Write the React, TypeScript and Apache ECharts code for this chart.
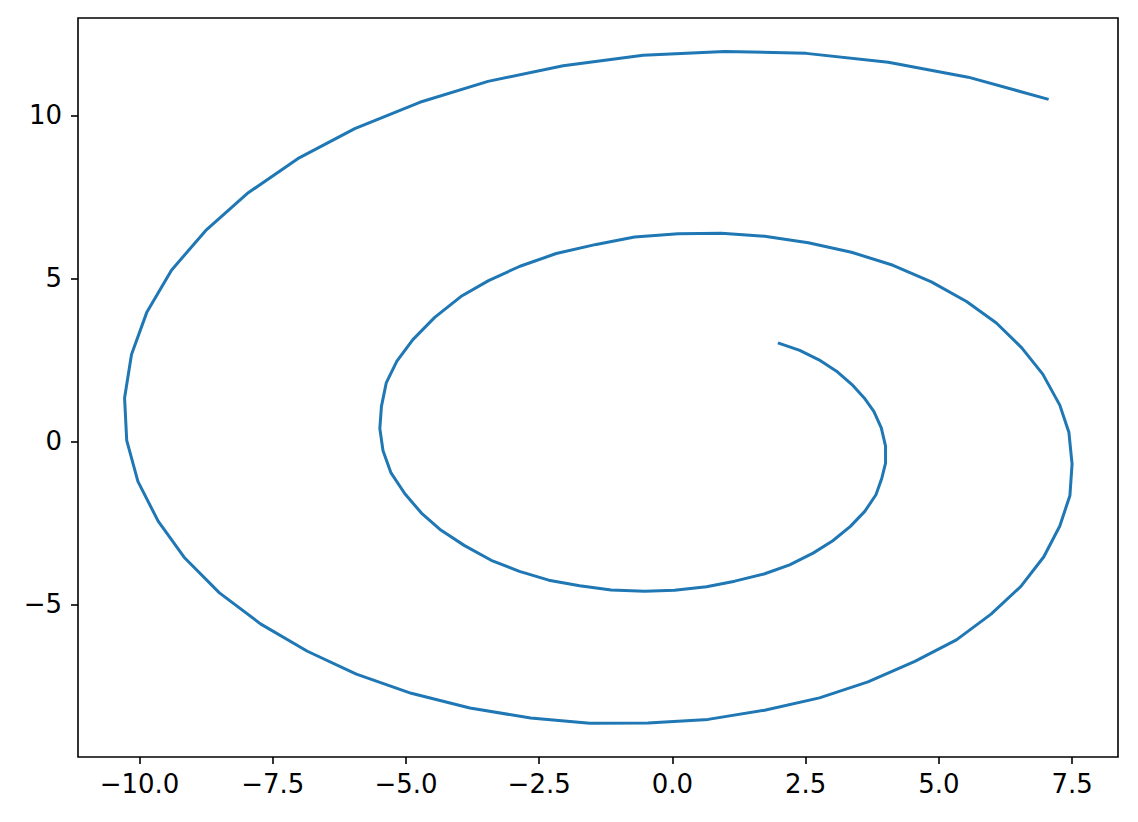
import React, { useEffect, useRef } from "react";
import * as echarts from "echarts";

const xValues: number[] = [
  1.98, 2.39, 2.75, 3.08, 3.37, 3.6, 3.78, 3.92, 4.0, 4.0,
  3.93, 3.82, 3.61, 3.34, 3.01, 2.64, 2.2, 1.72, 1.17, 0.64,
  0.04, -0.52, -1.15, -1.74, -2.32, -2.87, -3.4, -3.9, -4.34, -4.71,
  -5.02, -5.28, -5.43, -5.49, -5.46, -5.37, -5.17, -4.87, -4.46, -3.97,
  -3.45, -2.86, -2.18, -1.43, -0.71, 0.11, 0.92, 1.73, 2.55, 3.36,
  4.14, 4.86, 5.52, 6.08, 6.56, 6.95, 7.27, 7.44, 7.5, 7.46,
  7.27, 6.97, 6.54, 5.98, 5.33, 4.55, 3.67, 2.76, 1.73, 0.67,
  -0.46, -1.55, -2.66, -3.8, -4.9, -5.93, -6.85, -7.73, -8.5, -9.15,
  -9.65, -10.03, -10.24, -10.28, -10.15, -9.86, -9.4, -8.76, -7.98, -7.03,
  -5.96, -4.74, -3.46, -2.05, -0.55, 0.98, 2.51, 4.05, 5.55, 7.06,
];

const yValues: number[] = [
  3.02, 2.79, 2.5, 2.15, 1.74, 1.33, 0.92, 0.41, -0.15, -0.67,
  -1.13, -1.64, -2.15, -2.61, -3.05, -3.43, -3.79, -4.07, -4.29, -4.46,
  -4.57, -4.6, -4.56, -4.43, -4.26, -3.99, -3.65, -3.2, -2.73, -2.2,
  -1.61, -0.97, -0.29, 0.39, 1.07, 1.79, 2.46, 3.12, 3.8, 4.44,
  4.93, 5.37, 5.76, 6.04, 6.27, 6.37, 6.38, 6.29, 6.09, 5.8,
  5.4, 4.89, 4.29, 3.63, 2.86, 2.06, 1.11, 0.28, -0.69, -1.66,
  -2.6, -3.54, -4.45, -5.3, -6.09, -6.75, -7.38, -7.87, -8.25, -8.53,
  -8.64, -8.65, -8.49, -8.18, -7.73, -7.14, -6.44, -5.6, -4.65, -3.58,
  -2.45, -1.23, 0.03, 1.33, 2.66, 3.97, 5.25, 6.46, 7.6, 8.67,
  9.59, 10.4, 11.04, 11.52, 11.84, 11.96, 11.9, 11.63, 11.17, 10.49,
];

const xTicks: number[] = [-10, -7.5, -5, -2.5, 0, 2.5, 5, 7.5];
const yTicks: number[] = [-5, 0, 5, 10];

const fmt = (v: number, digits: number) => {
  const s = Math.abs(v).toFixed(digits);
  return v < 0 ? "\u2212" + s : s;
};

export default function App() {
  const ref = useRef<HTMLDivElement>(null);
  useEffect(() => {
    if (!ref.current) return;
    const chart = echarts.init(ref.current, null, { renderer: "svg" });
    const points = xValues.map((x, i) => [x, yValues[i]]);
    const font = "DejaVu Sans";
    chart.setOption({
      animation: false,
      backgroundColor: "#ffffff",
      grid: {
        left: 78,
        right: 20,
        top: 18,
        bottom: 65,
        show: true,
        borderColor: "#000000",
        borderWidth: 1.6,
        backgroundColor: "transparent",
      },
      xAxis: {
        type: "value",
        position: "bottom",
        min: -11.154,
        max: 8.362,
        axisLine: { show: false, onZero: false },
        splitLine: { show: false },
        axisTick: {
          show: true,
          inside: false,
          length: 7,
          customValues: xTicks,
          lineStyle: { color: "#000000", width: 1.6 },
        },
        axisLabel: {
          customValues: xTicks,
          margin: 14,
          color: "#000000",
          fontFamily: font,
          fontSize: 26,
          formatter: (v: number) => fmt(v, 1),
        },
      },
      yAxis: {
        type: "value",
        position: "left",
        min: -9.684,
        max: 12.985,
        axisLine: { show: false, onZero: false },
        splitLine: { show: false },
        axisTick: {
          show: true,
          inside: false,
          length: 7,
          customValues: yTicks,
          lineStyle: { color: "#000000", width: 1.6 },
        },
        axisLabel: {
          customValues: yTicks,
          margin: 16,
          color: "#000000",
          fontFamily: font,
          fontSize: 26,
          formatter: (v: number) => fmt(v, 0),
        },
      },
      series: [
        {
          type: "line",
          data: points,
          showSymbol: false,
          symbol: "none",
          smooth: false,
          lineStyle: { color: "#1f77b4", width: 3 },
        },
      ],
    });
    return () => chart.dispose();
  }, []);
  return (
    <div
      ref={ref}
      style={{ position: "absolute", left: 0, top: 0, width: 1138, height: 822 }}
    />
  );
}
